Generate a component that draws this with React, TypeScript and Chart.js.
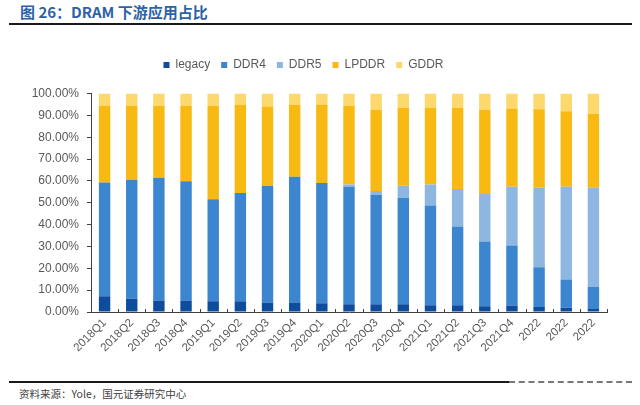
import React, { useEffect, useRef } from 'react';
import { Chart, registerables } from 'chart.js';

Chart.register(...registerables);

const categories = [
  '2018Q1', '2018Q2', '2018Q3', '2018Q4',
  '2019Q1', '2019Q2', '2019Q3', '2019Q4',
  '2020Q1', '2020Q2', '2020Q3', '2020Q4',
  '2021Q1', '2021Q2', '2021Q3', '2021Q4',
  '2022', '2022', '2022',
];

const legacy = [7.2, 6.1, 5.3, 5.3, 4.9, 4.9, 4.4, 4.4, 4.0, 3.5, 3.5, 3.5, 3.1, 3.1, 2.6, 3.0, 2.3, 2.0, 1.4];
const ddr4 = [52.1, 54.4, 56.1, 54.5, 46.7, 49.6, 53.4, 57.5, 55.0, 53.7, 50.2, 48.8, 45.6, 36.0, 29.7, 27.4, 18.2, 12.9, 10.2];
const ddr5 = [0, 0, 0, 0, 0, 0, 0, 0, 0, 1.1, 1.7, 5.5, 9.6, 17.2, 21.7, 26.9, 36.4, 42.4, 45.3];
const lpddr = [35.0, 33.8, 32.9, 34.5, 42.7, 40.3, 36.2, 32.9, 35.8, 36.0, 37.1, 35.7, 35.2, 37.2, 38.5, 35.8, 35.9, 34.6, 33.7];
const gddr = [5.7, 5.7, 5.7, 5.7, 5.7, 5.2, 6.0, 5.2, 5.2, 5.7, 7.5, 6.5, 6.5, 6.5, 7.5, 6.9, 7.2, 8.1, 9.4];

const FONT = '"Liberation Sans", Arial, sans-serif';
const CJK = '"Noto Sans CJK SC", "Liberation Sans", sans-serif';

// small inner tick marks between the categories on the x axis
const innerTicks = {
  id: 'innerTicks',
  afterDraw(chart: any) {
    const x = chart.scales.x;
    const { ctx, chartArea } = chart;
    ctx.save();
    ctx.strokeStyle = '#404040';
    ctx.lineWidth = 1;
    for (let i = 0; i <= categories.length; i++) {
      const px = Math.round(x.getPixelForValue(i - 0.5)) + 0.5;
      ctx.beginPath();
      ctx.moveTo(px, chartArea.bottom - 3);
      ctx.lineTo(px, chartArea.bottom);
      ctx.stroke();
    }
    ctx.restore();
  },
};

// extra space under the legend
const legendGap = {
  id: 'legendGap',
  beforeInit(chart: any) {
    const legend = chart.legend;
    if (!legend) return;
    const fit = legend.fit;
    legend.fit = function () {
      fit.call(this);
      this.height += 12.5;
    };
  },
};

const App = () => {
  const ref = useRef<HTMLCanvasElement | null>(null);
  const chartRef = useRef<Chart<'bar'> | null>(null);

  useEffect(() => {
    const canvas = ref.current;
    if (!canvas) return;
    if (chartRef.current) chartRef.current.destroy();

    const mk = (label: string, data: number[], color: string) => ({
      label,
      data,
      backgroundColor: color,
      borderWidth: 0,
      barPercentage: 0.42,
      categoryPercentage: 1,
    });

    chartRef.current = new Chart(canvas, {
      type: 'bar',
      data: {
        labels: categories,
        datasets: [
          mk('legacy', legacy, '#0E4C9E'),
          mk('DDR4', ddr4, '#3B86CF'),
          mk('DDR5', ddr5, '#8DB6E1'),
          mk('LPDDR', lpddr, '#F8B912'),
          mk('GDDR', gddr, '#FDD86C'),
        ],
      },
      options: {
        animation: false,
        responsive: false,
        layout: { padding: { top: 48, right: 33, left: 0, bottom: 0 } },
        plugins: {
          tooltip: { enabled: false },
          legend: {
            position: 'top',
            labels: {
              boxWidth: 6,
              boxHeight: 6,
              padding: 11,
              color: '#595959',
              font: { family: FONT, size: 12 },
            },
          },
        },
        scales: {
          x: {
            stacked: true,
            afterFit: (s: any) => { s.height = 68; },
            grid: { display: true, drawOnChartArea: false, drawTicks: false },
            border: { display: true, color: '#404040', width: 1 },
            ticks: {
              color: '#595959',
              font: { family: FONT, size: 11.5 },
              minRotation: 45,
              maxRotation: 45,
              padding: 4,
              autoSkip: false,
            },
          },
          y: {
            stacked: true,
            min: 0,
            max: 100,
            afterFit: (s: any) => { s.width = 91; },
            grid: { display: true, drawOnChartArea: false, drawTicks: true, tickLength: 4, color: '#404040' },
            border: { display: true, color: '#404040', width: 1 },
            ticks: {
              stepSize: 10,
              color: '#595959',
              padding: 8,
              font: { family: FONT, size: 12 },
              callback: (v: any) => Number(v).toFixed(2) + '%',
            },
          },
        },
      },
      plugins: [innerTicks, legendGap],
    });

    return () => {
      chartRef.current?.destroy();
      chartRef.current = null;
    };
  }, []);

  return (
    <div style={{ position: 'absolute', left: 0, top: 0, width: 640, height: 405, background: '#fff', overflow: 'hidden' }}>
      <div style={{ position: 'absolute', left: 20, top: 2, fontFamily: CJK, fontWeight: 700, fontSize: 15, color: '#2E62A6', whiteSpace: 'nowrap', lineHeight: '20px' }}>
        图 26：DRAM 下游应用占比
      </div>
      <div style={{ position: 'absolute', left: 9, top: 23, width: 623, height: 2, background: '#1a1a1a' }} />
      <canvas ref={ref} width={640} height={380} style={{ position: 'absolute', left: 0, top: 0, width: 640, height: 380 }} />
      <div style={{ position: 'absolute', left: 9, top: 381, width: 500, height: 2, background: '#1a1a1a' }} />
      <div style={{ position: 'absolute', left: 509, top: 381, width: 123, height: 1, borderTop: '2px dashed #777' }} />
      <div style={{ position: 'absolute', left: 19, top: 387, fontFamily: CJK, fontSize: 10.5, color: '#404040', whiteSpace: 'nowrap', lineHeight: '14px' }}>
        资料来源：Yole，国元证券研究中心
      </div>
    </div>
  );
};

export default App;
